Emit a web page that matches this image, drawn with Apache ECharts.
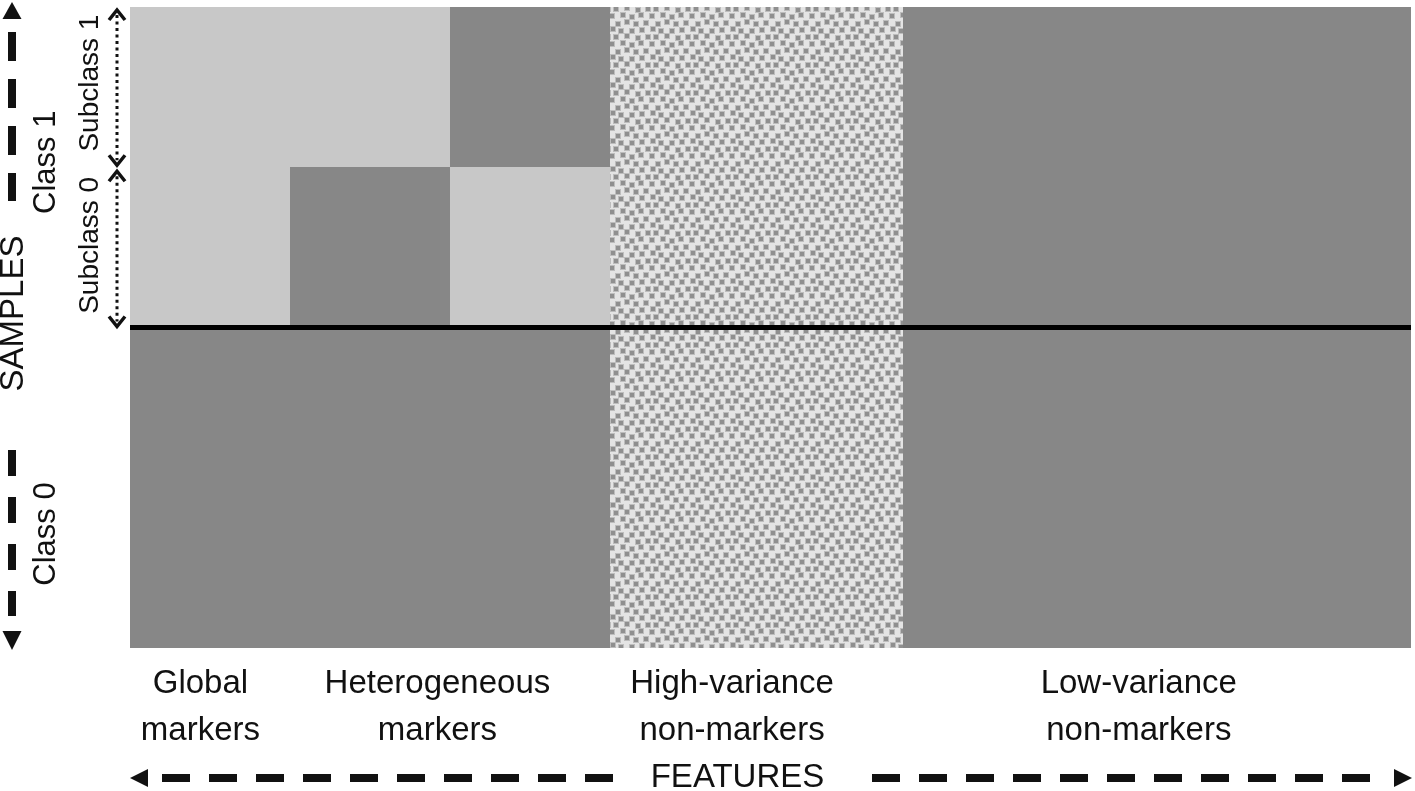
<!DOCTYPE html>
<html>
<head>
<meta charset="utf-8">
<script src="https://cdn.jsdelivr.net/npm/echarts@6/dist/echarts.min.js"></script>
<style>
  html, body { margin: 0; padding: 0; background: #ffffff; }
  #chart { width: 1415px; height: 791px; }
</style>
</head>
<body>
<div id="chart"></div>
<script>
// ---- data ----
// feature blocks along x (units), sample blocks along y (units; class 0 = 0..2, subclass 0 = 2..3, subclass 1 = 3..4)
const featureBounds = [0, 1, 3, 4.83, 8];
const featureLabels = ['Global\nmarkers', 'Heterogeneous\nmarkers', 'High-variance\nnon-markers', 'Low-variance\nnon-markers'];
const featureLabelX = [0.44, 1.92, 3.76, 6.3];
const classBoundary = 2;
// cells: [x0, x1, y0, y1, shade]  shade: 0 = light (marker on), 1 = dark (baseline), 2 = noisy
const cellX0 = [0, 0, 1, 1, 2, 2, 0, 3, 4.83];
const cellX1 = [1, 1, 2, 2, 3, 3, 3, 4.83, 8];
const cellY0 = [3, 2, 3, 2, 3, 2, 0, 0, 0];
const cellY1 = [4, 3, 4, 3, 4, 3, 2, 4, 4];
const cellShade = [0, 0, 0, 1, 1, 0, 1, 2, 1];
const sampleLabels = ['SAMPLES', 'Class 1', 'Class 0', 'Subclass 1', 'Subclass 0'];
const axisTitleFeatures = 'FEATURES';

// ---- styles ----
function makeNoisePattern() {
  const W = 40, H = 28;
  const c = document.createElement('canvas');
  c.width = W; c.height = H;
  const g = c.getContext('2d');
  g.fillStyle = '#e4e4e4';
  g.fillRect(0, 0, W, H);
  const jit = [[0,0],[1,-1],[-1,1],[0,1],[1,0],[-1,0],[0,-1],[1,1],[-1,-1],[0,0],[1,-1],[0,1],[-1,0],[1,1],[0,-1],[-1,1]];
  let k = 0;
  for (let r = 0; r < 4; r++) {
    for (let q = 0; q < 4; q++) {
      const x = q * 10 + (r % 2) * 5 + jit[k][0];
      const y = r * 7 + jit[k][1];
      k++;
      for (let ox = -W; ox <= W; ox += W) {
        for (let oy = -H; oy <= H; oy += H) {
          g.fillStyle = '#bdbdbd';
          g.fillRect(x + ox - 1, y + oy - 1, 6, 6);
          g.fillStyle = '#8f8f8f';
          g.fillRect(x + ox, y + oy, 4, 4);
        }
      }
    }
  }
  return c;
}
const shadeFill = ['#c8c8c8', '#878787', { image: makeNoisePattern(), repeat: 'repeat' }];
const FONT = '"Liberation Sans", Arial, sans-serif';

const cells = cellX0.map(function (x0, i) { return [x0, cellX1[i], cellY0[i], cellY1[i], cellShade[i]]; });

const chart = echarts.init(document.getElementById('chart'), null, { renderer: 'canvas' });

const option = {
  animation: false,
  backgroundColor: '#ffffff',
  grid: { left: 130, top: 7, right: 4, bottom: 143 },
  xAxis: { type: 'value', min: 0, max: 8, show: false },
  yAxis: { type: 'value', min: 0, max: 4, show: false },
  series: [
    {
      type: 'custom',
      data: cells,
      renderItem: function (params, api) {
        const p0 = api.coord([api.value(0), api.value(3)]);
        const p1 = api.coord([api.value(1), api.value(2)]);
        const x0 = Math.round(p0[0]), y0 = Math.round(p0[1]);
        const x1 = Math.round(p1[0]), y1 = Math.round(p1[1]);
        return {
          type: 'rect',
          shape: { x: x0, y: y0, width: x1 - x0, height: y1 - y0 },
          style: { fill: shadeFill[api.value(4)] }
        };
      },
      z: 1
    },
    {
      type: 'line',
      data: [[0, classBoundary], [8, classBoundary]],
      symbol: 'none',
      lineStyle: { color: '#000000', width: 5 },
      z: 3
    },
    {
      type: 'custom',
      data: featureLabelX.map(function (x, i) { return [x, i]; }),
      renderItem: function (params, api) {
        const p = api.coord([api.value(0), 0]);
        return {
          type: 'text',
          x: p[0], y: p[1] + 59,
          style: {
            text: featureLabels[api.value(1)],
            font: '33px ' + FONT,
            fill: '#111111',
            align: 'center',
            verticalAlign: 'middle',
            lineHeight: 47
          }
        };
      },
      z: 4
    },
    {
      type: 'custom',
      data: [[0, 0]],
      renderItem: function (params, api) {
        const bl = api.coord([0, 0]);       // bottom-left of plot
        const tl = api.coord([0, 4]);       // top-left
        const br = api.coord([8, 0]);       // bottom-right
        const yMid = api.coord([0, 2])[1];  // class boundary
        const ySub = api.coord([0, 3])[1];  // subclass boundary
        const L = bl[0], T = tl[1], B = bl[1], R = br[0];
        const ax = L - 118;   // left dashed arrow x
        const dx = L - 13;    // dotted arrows x
        const by = B + 130;   // bottom arrow y
        const ink = '#111111';
        const kids = [];
        // left dashed arrow (samples)
        kids.push({ type: 'polygon', shape: { points: [[ax, T - 5], [ax - 9.5, T + 12], [ax + 9.5, T + 12]] }, style: { fill: ink } });
        kids.push({ type: 'line', shape: { x1: ax, y1: T + 25, x2: ax, y2: T + 194 }, style: { stroke: ink, lineWidth: 8, lineDash: [29, 18] } });
        kids.push({ type: 'line', shape: { x1: ax, y1: B - 198, x2: ax, y2: B - 32 }, style: { stroke: ink, lineWidth: 8, lineDash: [26, 21] } });
        kids.push({ type: 'polygon', shape: { points: [[ax, B + 2], [ax - 9.5, B - 17], [ax + 9.5, B - 17]] }, style: { fill: ink } });
        // dotted double arrows (subclasses)
        function dotted(y1, y2) {
          kids.push({ type: 'line', shape: { x1: dx, y1: y1 + 6, x2: dx, y2: y2 - 6 }, style: { stroke: ink, lineWidth: 3, lineDash: [3, 3.5] } });
          kids.push({ type: 'polyline', shape: { points: [[dx - 8, y1 + 11], [dx, y1 + 1], [dx + 8, y1 + 11]] }, style: { stroke: ink, lineWidth: 3.5, fill: null } });
          kids.push({ type: 'polyline', shape: { points: [[dx - 8, y2 - 11], [dx, y2 - 1], [dx + 8, y2 - 11]] }, style: { stroke: ink, lineWidth: 3.5, fill: null } });
        }
        dotted(T + 2, ySub - 1);
        dotted(ySub + 3, yMid);
        // bottom dashed arrow (features)
        kids.push({ type: 'polygon', shape: { points: [[L, by], [L + 18, by - 9], [L + 18, by + 9]] }, style: { fill: ink } });
        kids.push({ type: 'line', shape: { x1: L + 32, y1: by, x2: L + 483, y2: by }, style: { stroke: ink, lineWidth: 8, lineDash: [28, 19] } });
        kids.push({ type: 'line', shape: { x1: L + 742, y1: by, x2: L + 1240, y2: by }, style: { stroke: ink, lineWidth: 8, lineDash: [28, 19] } });
        kids.push({ type: 'polygon', shape: { points: [[R + 1, by], [R - 17, by - 9], [R - 17, by + 9]] }, style: { fill: ink } });
        kids.push({ type: 'text', x: (L + R) / 2 - 33, y: by, style: { text: axisTitleFeatures, font: '33px ' + FONT, fill: ink, align: 'center', verticalAlign: 'middle' } });
        // rotated sample labels
        function vtext(t, x, y, size) {
          kids.push({ type: 'text', x: x, y: y, rotation: Math.PI / 2, style: { text: t, font: size + 'px ' + FONT, fill: ink, align: 'center', verticalAlign: 'middle' } });
        }
        vtext(sampleLabels[0], L - 116, yMid - 14, 33);
        vtext(sampleLabels[1], L - 84, ySub - 5, 31);
        vtext(sampleLabels[2], L - 84, B - 114, 31);
        vtext(sampleLabels[3], L - 40, (T + ySub) / 2 - 4, 28);
        vtext(sampleLabels[4], L - 40, (ySub + yMid) / 2 - 2, 28);
        return { type: 'group', children: kids };
      },
      z: 5
    }
  ]
};
chart.setOption(option);
</script>
</body>
</html>
